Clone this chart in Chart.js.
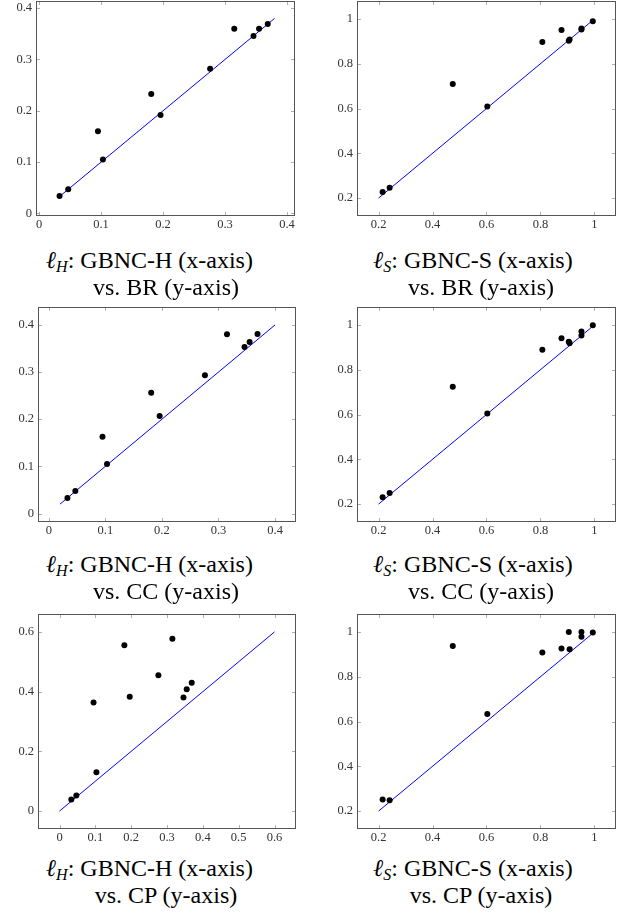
<!DOCTYPE html>
<html>
<head>
<meta charset="utf-8">
<script src="https://cdn.jsdelivr.net/npm/chart.js@4/dist/chart.umd.min.js"></script>
<style>
  body { margin: 0; background: #fff; width: 624px; height: 918px; position: relative; overflow: hidden; font-family: "Liberation Serif", "Times New Roman", Times, serif; }
  canvas { position: absolute; }
  .cap { position: absolute; white-space: nowrap; font-size: 24px; line-height: 1; color: #000; transform: translate(-50%, -50%); }
  .cap sub { font-size: 16px; font-style: italic; vertical-align: -4px; line-height: 0; }
  .cap .m { font-style: italic; }
</style>
</head>
<body>
<script>
// x values (same items in every panel of a column)
const gbncH = [0.033, 0.047, 0.095, 0.103, 0.181, 0.196, 0.276, 0.315, 0.346, 0.355, 0.369];
const gbncS = [0.215, 0.241, 0.475, 0.603, 0.807, 0.878, 0.905, 0.908, 0.952, 0.952, 0.994];

// y values
const brH = [0.034, 0.047, 0.160, 0.105, 0.233, 0.192, 0.282, 0.360, 0.346, 0.360, 0.369];
const ccH = [0.033, 0.048, 0.163, 0.105, 0.256, 0.207, 0.293, 0.380, 0.353, 0.364, 0.381];
const cpH = [0.039, 0.052, 0.364, 0.130, 0.555, 0.383, 0.455, 0.577, 0.380, 0.408, 0.430];
const brS = [0.227, 0.246, 0.709, 0.609, 0.897, 0.951, 0.903, 0.908, 0.953, 0.957, 0.990];
const ccS = [0.231, 0.249, 0.724, 0.605, 0.889, 0.940, 0.925, 0.918, 0.971, 0.953, 0.999];
const cpS = [0.252, 0.248, 0.937, 0.634, 0.908, 0.926, 1.000, 0.923, 1.000, 0.978, 0.997];

// y = x reference line ends
const diagHBR = [0.034, 0.38];
const diagHCC = [0.02, 0.4];
const diagHCP = [0, 0.6];
const diagS = [0.2, 0.99];

// ticks
const ticksH = [0, 0.1, 0.2, 0.3, 0.4];
const ticksCP = [0, 0.2, 0.4, 0.6];
const ticksCPx = [0, 0.1, 0.2, 0.3, 0.4, 0.5, 0.6];
const ticksS = [0.2, 0.4, 0.6, 0.8, 1];

// captions
const capLeft = ["GBNC-H (x-axis)", "H"];
const capRight = ["GBNC-S (x-axis)", "S"];
const capRows = ["vs. BR (y-axis)", "vs. CC (y-axis)", "vs. CP (y-axis)"];

const YW = 40, XH = 22, PT = 12, PR = 14;

const panels = [
  { box: [36, 1, 295, 216], xs: gbncH, ys: brH, line: diagHBR, xr: [-0.005, 0.413], yr: [-0.005, 0.414], xt: ticksH, yt: ticksH },
  { box: [357, 1, 616, 216], xs: gbncS, ys: brS, line: diagS, xr: [0.12, 1.08], yr: [0.12, 1.08], xt: ticksS, yt: ticksS },
  { box: [38, 307, 296, 522], xs: gbncH, ys: ccH, line: diagHCC, xr: [-0.019, 0.437], yr: [-0.018, 0.438], xt: ticksH, yt: ticksH },
  { box: [357, 307, 616, 522], xs: gbncS, ys: ccS, line: diagS, xr: [0.12, 1.08], yr: [0.12, 1.08], xt: ticksS, yt: ticksS },
  { box: [38, 614, 296, 829], xs: gbncH, ys: cpH, line: diagHCP, xr: [-0.06, 0.66], yr: [-0.06, 0.66], xt: ticksCPx, yt: ticksCP },
  { box: [357, 614, 616, 829], xs: gbncS, ys: cpS, line: diagS, xr: [0.12, 1.08], yr: [0.12, 1.08], xt: ticksS, yt: ticksS },
];

// full frame with inward tick marks on all sides, like pgfplots
const boxPlugin = {
  id: 'box',
  afterDatasetsDraw(chart) {
    const { ctx, chartArea: a, scales: { x, y } } = chart;
    ctx.save();
    ctx.strokeStyle = '#9a9a9a';
    ctx.lineWidth = 0.8;
    ctx.beginPath();
    x.ticks.forEach(t => {
      const px = Math.round(x.getPixelForValue(t.value)) + 0.5;
      ctx.moveTo(px, a.bottom); ctx.lineTo(px, a.bottom - 4);
      ctx.moveTo(px, a.top); ctx.lineTo(px, a.top + 4);
    });
    y.ticks.forEach(t => {
      const py = Math.round(y.getPixelForValue(t.value)) + 0.5;
      ctx.moveTo(a.left, py); ctx.lineTo(a.left + 4, py);
      ctx.moveTo(a.right, py); ctx.lineTo(a.right - 4, py);
    });
    ctx.stroke();
    ctx.strokeStyle = '#555';
    ctx.lineWidth = 1;
    ctx.strokeRect(a.left + 0.5, a.top + 0.5, a.width - 1, a.height - 1);
    ctx.restore();
  }
};

const fmt = v => String(+Number(v).toFixed(2));
const tickFont = { family: "'Liberation Serif', 'Times New Roman', serif", size: 12.5 };

function axis(range, ticks, isX) {
  return {
    type: 'linear',
    min: range[0],
    max: range[1],
    grid: { display: false, drawTicks: false },
    border: { display: false },
    ticks: { font: tickFont, color: '#333', padding: isX ? 1 : 4, callback: fmt, autoSkip: false, maxRotation: 0 },
    afterBuildTicks: s => { s.ticks = ticks.map(v => ({ value: v })); },
    afterFit: s => {
      if (isX) s.height = XH; else s.width = YW;
      s.paddingTop = 0; s.paddingBottom = 0; s.paddingLeft = 0; s.paddingRight = 0;
    }
  };
}

panels.forEach(p => {
  const [l, t, r, b] = p.box;
  const cv = document.createElement('canvas');
  cv.width = YW + (r - l) + PR;
  cv.height = PT + (b - t) + XH;
  cv.style.left = (l - YW) + 'px';
  cv.style.top = (t - PT) + 'px';
  document.body.appendChild(cv);

  new Chart(cv, {
    type: 'scatter',
    data: {
      datasets: [
        {
          data: p.xs.map((x, i) => ({ x: x, y: p.ys[i] })),
          backgroundColor: '#000',
          borderWidth: 0,
          pointRadius: 3,
          order: 0
        },
        {
          type: 'line',
          data: p.line.map(v => ({ x: v, y: v })),
          borderColor: 'rgb(0,0,255)',
          borderWidth: 1,
          pointRadius: 0,
          order: 1
        }
      ]
    },
    options: {
      responsive: false,
      animation: false,
      events: [],
      layout: { padding: { top: PT, right: PR, left: 0, bottom: 0 } },
      plugins: { legend: { display: false }, tooltip: { enabled: false } },
      scales: { x: axis(p.xr, p.xt, true), y: axis(p.yr, p.yt, false) }
    },
    plugins: [boxPlugin]
  });
});

// captions
const capX = [[149.5, 166], [473, 481]];
capRows.forEach((second, row) => {
  [capLeft, capRight].forEach((c, col) => {
    const y0 = 260 + row * 304;
    const d1 = document.createElement('div');
    d1.className = 'cap';
    d1.style.left = capX[col][0] + 'px';
    d1.style.top = y0 + 'px';
    d1.innerHTML = '<span class="m">ℓ</span><sub>' + c[1] + '</sub>: ' + c[0];
    document.body.appendChild(d1);
    const d2 = document.createElement('div');
    d2.className = 'cap';
    d2.style.left = capX[col][1] + 'px';
    d2.style.top = (y0 + 27) + 'px';
    d2.textContent = second;
    document.body.appendChild(d2);
  });
});
</script>
</body>
</html>
